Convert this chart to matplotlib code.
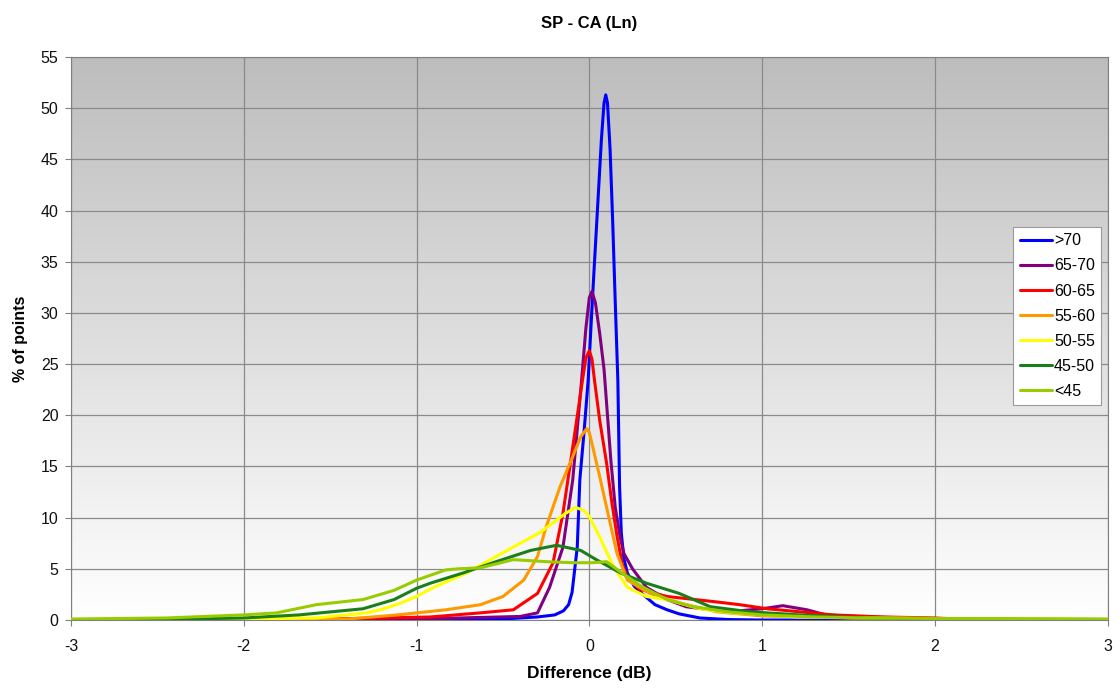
import matplotlib
matplotlib.use("Agg")
import matplotlib.pyplot as plt
import numpy as np

plt.rcParams['font.family'] = ['Liberation Sans', 'DejaVu Sans']
plt.rcParams['axes.unicode_minus'] = False

# series data (difference in dB, % of points)
x_gt70 = [-3, -2, -1, -0.5, -0.3, -0.2, -0.15, -0.12, -0.1, -0.07, -0.055, -0.03, -0.007, 0.02, 0.05,
          0.07, 0.085, 0.095, 0.105, 0.12, 0.135, 0.15, 0.165, 0.175, 0.185, 0.2, 0.22, 0.26, 0.31,
          0.38, 0.45, 0.52, 0.64, 0.8, 1.0, 2.0, 3.0]
y_gt70 = [0, 0, 0.02, 0.1, 0.3, 0.5, 0.9, 1.5, 2.7, 7.1, 13.7, 18.5, 23.4, 32, 41,
          47, 50.5, 51.3, 50.5, 46, 39, 31, 23.4, 13, 8.5, 6, 4.6, 3.3, 2.5,
          1.5, 1.0, 0.6, 0.2, 0.05, 0, 0, 0]

x_65_70 = [-3, -2, -1, -0.4, -0.3, -0.23, -0.153, -0.096, -0.045, -0.02, 0.0, 0.015, 0.035, 0.06,
           0.085, 0.105, 0.125, 0.15, 0.177, 0.2, 0.25, 0.33, 0.45, 0.56, 0.8, 1.0, 1.12, 1.26,
           1.37, 1.6, 2.0, 2.5, 3.0]
y_65_70 = [0, 0.05, 0.1, 0.35, 0.7, 3.2, 7.1, 13.7, 23.4, 28.5, 31.5, 32.1, 31, 28,
           24.5, 20, 15.5, 11, 8.2, 6.5, 5.0, 3.2, 2.0, 1.3, 0.8, 1.1, 1.4, 1.0,
           0.5, 0.3, 0.15, 0.05, 0]

x_60_65 = [-3, -2, -1.5, -0.92, -0.63, -0.44, -0.3, -0.21, -0.153, -0.096, -0.04, -0.02, 0.0, 0.015,
           0.03, 0.06, 0.1, 0.13, 0.16, 0.19, 0.22, 0.29, 0.45, 0.72, 0.87, 1.03, 1.22, 1.41,
           1.7, 2.0, 2.2, 3.0]
y_60_65 = [0, 0.05, 0.1, 0.3, 0.7, 1.0, 2.6, 5.6, 10.4, 16.9, 23.4, 25.6, 26.3, 25.5,
           23.4, 19.5, 15.3, 11.5, 8.2, 5.5, 4.2, 3.0, 2.3, 1.8, 1.5, 1.1, 0.8, 0.5,
           0.3, 0.2, 0.05, 0]

x_55_60 = [-3, -2, -1.4, -1.11, -0.83, -0.63, -0.5, -0.38, -0.3, -0.25, -0.17, -0.1, -0.05, -0.015,
           0.0, 0.02, 0.06, 0.1, 0.16, 0.22, 0.35, 0.54, 0.74, 1.0, 1.5, 2.0, 3.0]
y_55_60 = [0, 0.05, 0.1, 0.5, 1.0, 1.5, 2.3, 3.9, 6.2, 9.1, 13, 15.8, 17.9, 18.7,
           18.3, 16.9, 14, 11.0, 6.5, 3.9, 2.6, 1.6, 0.8, 0.4, 0.2, 0.1, 0]

x_50_55 = [-3, -2, -1.58, -1.29, -1.21, -1.1, -1.0, -0.9, -0.71, -0.54, -0.4, -0.29, -0.21, -0.14,
           -0.08, -0.03, 0.0, 0.06, 0.14, 0.22, 0.33, 0.45, 0.64, 0.83, 1.2, 2.0, 2.5, 3.0]
y_50_55 = [0, 0.1, 0.2, 0.7, 1.0, 1.6, 2.3, 3.2, 4.6, 6.2, 7.5, 8.5, 9.5, 10.4,
           11.0, 10.7, 10.1, 8.1, 5.2, 3.2, 2.3, 2.0, 1.1, 0.7, 0.3, 0.15, 0.1, 0.05]

x_45_50 = [-3, -2.5, -2.0, -1.68, -1.31, -1.13, -1.0, -0.92, -0.73, -0.54, -0.34, -0.19, -0.05,
           0.04, 0.18, 0.33, 0.52, 0.7, 0.93, 1.22, 1.6, 2.0, 3.0]
y_45_50 = [0, 0.05, 0.2, 0.5, 1.1, 2.0, 3.1, 3.6, 4.6, 5.7, 6.8, 7.3, 6.8,
           5.9, 4.6, 3.6, 2.6, 1.3, 0.8, 0.5, 0.2, 0.1, 0.05]

x_lt45 = [-3, -2.45, -2.0, -1.81, -1.58, -1.31, -1.13, -1.0, -0.83, -0.76, -0.63, -0.44, -0.25,
          -0.1, 0.02, 0.1, 0.18, 0.3, 0.45, 0.6, 0.8, 1.0, 1.3, 1.6, 2.0, 3.0]
y_lt45 = [0.1, 0.2, 0.5, 0.7, 1.5, 2.0, 2.9, 3.9, 4.9, 5.0, 5.1, 5.9, 5.7,
          5.6, 5.6, 5.7, 4.7, 3.3, 2.0, 1.3, 0.8, 0.5, 0.3, 0.2, 0.15, 0.1]

labels = ['>70', '65-70', '60-65', '55-60', '50-55', '45-50', '<45']
colors = ['#0000ff', '#800080', '#ff0000', '#ff9900', '#ffff00', '#1a7f1a', '#99cc00']
series = [(x_gt70, y_gt70), (x_65_70, y_65_70), (x_60_65, y_60_65), (x_55_60, y_55_60),
          (x_50_55, y_50_55), (x_45_50, y_45_50), (x_lt45, y_lt45)]

fig = plt.figure(figsize=(11.2, 6.89), dpi=100)
ax = fig.add_axes([0.0634, 0.1001, 0.9256, 0.8172])

# grey-to-white background of the plot area
grad = np.linspace(0, 1, 256).reshape(-1, 1)
ax.imshow(grad, extent=[-3, 3, 0, 55], aspect='auto', origin='lower',
          cmap=matplotlib.colors.LinearSegmentedColormap.from_list('bg', ['#ffffff', '#bdbdbd']),
          zorder=0)

for (xs, ys), lab, c in zip(series, labels, colors):
    ax.plot(xs, ys, color=c, lw=2.2, label=lab, zorder=3,
            solid_joinstyle='round', solid_capstyle='round')

ax.set_xlim(-3, 3)
ax.set_ylim(0, 55)
ax.set_xticks(range(-3, 4))
ax.set_yticks(range(0, 56, 5))
ax.grid(True, color='#8a8a8a', lw=0.9, zorder=1)
for s in ax.spines.values():
    s.set_color('#808080')
ax.tick_params(labelsize=11.5, length=4, color='#808080', labelcolor='#111111')
ax.tick_params(axis='x', pad=10)
ax.tick_params(axis='y', pad=5)

ax.set_title('SP - CA (Ln)', fontsize=12, fontweight='bold', pad=21)
ax.set_xlabel('Difference (dB)', fontsize=12.5, fontweight='bold', labelpad=8)
ax.set_ylabel('% of points', fontsize=11.5, fontweight='bold', labelpad=9)

leg = ax.legend(loc='upper right', bbox_to_anchor=(0.994, 0.698), fontsize=11.5,
                frameon=True, fancybox=False, edgecolor='#9a9a9a', framealpha=1,
                handlelength=2.0, labelspacing=0.63, borderpad=0.4, handletextpad=0.15,
                borderaxespad=0)
leg.get_frame().set_linewidth(0.8)
leg.set_zorder(5)

fig.savefig('out.png', dpi=100)
